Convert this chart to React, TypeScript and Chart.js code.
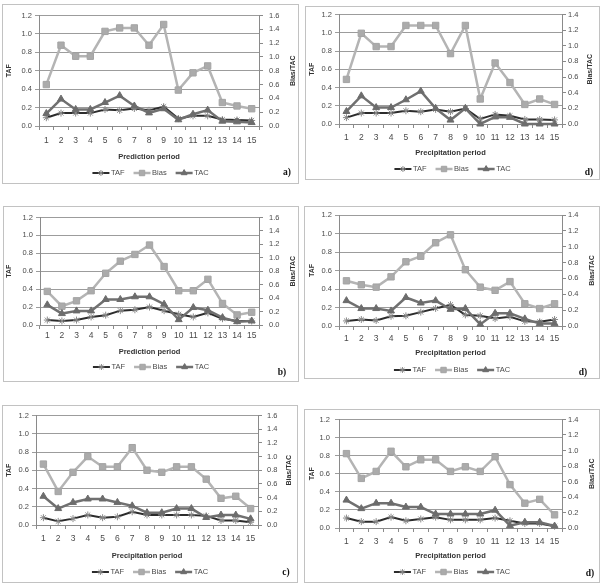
import { useEffect, useRef } from "react";
import { Chart, registerables } from "chart.js";

Chart.register(...registerables);

// ---- data -------------------------------------------------------------
const periods = ["1", "2", "3", "4", "5", "6", "7", "8", "9", "10", "11", "12", "13", "14", "15"];
const seriesNames = ["TAF", "Bias", "TAC"];
const predictionTitle = "Prediction period";
const precipitationTitle = "Precipitation period";
const tafAxisTitle = "TAF";
const biasTacAxisTitle = "Bias/TAC";

// panel a)
const tafA = [0.09, 0.14, 0.14, 0.14, 0.18, 0.17, 0.19, 0.17, 0.21, 0.08, 0.11, 0.11, 0.07, 0.065, 0.06];
const biasA = [0.6, 1.17, 1.01, 1.01, 1.37, 1.42, 1.42, 1.17, 1.47, 0.52, 0.77, 0.87, 0.34, 0.29, 0.25];
const tacA = [0.18, 0.39, 0.24, 0.24, 0.34, 0.44, 0.29, 0.19, 0.25, 0.09, 0.17, 0.23, 0.07, 0.06, 0.05];

// panel d) top
const tafD1 = [0.07, 0.12, 0.12, 0.12, 0.145, 0.135, 0.16, 0.135, 0.17, 0.055, 0.105, 0.09, 0.05, 0.05, 0.045];
const biasD1 = [0.57, 1.16, 0.99, 0.99, 1.26, 1.26, 1.26, 0.9, 1.26, 0.32, 0.78, 0.53, 0.25, 0.32, 0.25];
const tacD1 = [0.16, 0.36, 0.21, 0.21, 0.31, 0.42, 0.2, 0.05, 0.2, 0.0, 0.09, 0.085, 0.0, 0.0, 0.0];

// panel b)
const tafB = [0.055, 0.045, 0.055, 0.09, 0.11, 0.16, 0.17, 0.2, 0.16, 0.12, 0.09, 0.135, 0.07, 0.045, 0.045];
const biasB = [0.5, 0.28, 0.36, 0.51, 0.77, 0.95, 1.05, 1.19, 0.87, 0.51, 0.51, 0.68, 0.32, 0.15, 0.19];
const tacB = [0.3, 0.17, 0.21, 0.21, 0.38, 0.38, 0.42, 0.42, 0.31, 0.08, 0.26, 0.22, 0.11, 0.05, 0.06];

// panel d) middle
const tafD2 = [0.055, 0.07, 0.06, 0.105, 0.11, 0.15, 0.19, 0.23, 0.12, 0.11, 0.08, 0.1, 0.05, 0.045, 0.07];
const biasD2 = [0.57, 0.52, 0.49, 0.62, 0.81, 0.88, 1.05, 1.15, 0.71, 0.49, 0.45, 0.56, 0.28, 0.22, 0.28];
const tacD2 = [0.32, 0.22, 0.22, 0.19, 0.36, 0.29, 0.32, 0.21, 0.22, 0.02, 0.16, 0.16, 0.09, 0.03, 0.03];

// panel c)
const tafC = [0.08, 0.04, 0.07, 0.11, 0.08, 0.09, 0.145, 0.11, 0.11, 0.11, 0.11, 0.1, 0.05, 0.05, 0.03];
const biasC = [0.89, 0.49, 0.77, 1.0, 0.85, 0.85, 1.13, 0.8, 0.77, 0.85, 0.85, 0.67, 0.39, 0.42, 0.24];
const tacC = [0.42, 0.24, 0.33, 0.38, 0.38, 0.33, 0.28, 0.18, 0.18, 0.24, 0.24, 0.11, 0.145, 0.145, 0.09];

// panel d) bottom
const tafD3 = [0.11, 0.07, 0.07, 0.12, 0.08, 0.1, 0.12, 0.09, 0.09, 0.09, 0.11, 0.08, 0.05, 0.05, 0.02];
const biasD3 = [0.96, 0.64, 0.73, 0.99, 0.79, 0.88, 0.88, 0.73, 0.79, 0.73, 0.92, 0.56, 0.32, 0.37, 0.17];
const tacD3 = [0.36, 0.25, 0.32, 0.32, 0.27, 0.27, 0.18, 0.18, 0.18, 0.18, 0.23, 0.03, 0.075, 0.075, 0.025];

// ---- layout -----------------------------------------------------------
type Box = { x: number; y: number; w: number; h: number };
type Area = { l: number; t: number; r: number; b: number };
type Panel = {
  taf: number[];
  bias: number[];
  tac: number[];
  rightMax: number;
  xTitle: string;
  tag: string;
  box: Box;
  plot: Area;
  xTickY: number;
  xTitleY: number;
  legendY: number;
  tagX: number;
  tagY: number;
  leftTitleX: number;
  rightTitleX: number;
  yGap: number;
  y2Gap: number;
};

const panels: Panel[] = [
  {
    taf: tafA, bias: biasA, tac: tacA, rightMax: 1.6, xTitle: predictionTitle, tag: "a)",
    box: { x: 2, y: 4, w: 297, h: 180 }, plot: { l: 39, t: 15, r: 259, b: 126 },
    xTickY: 141, xTitleY: 157, legendY: 173, tagX: 287, tagY: 173,
    leftTitleX: 9, rightTitleX: 293, yGap: 7, y2Gap: 10,
  },
  {
    taf: tafD1, bias: biasD1, tac: tacD1, rightMax: 1.4, xTitle: precipitationTitle, tag: "d)",
    box: { x: 305, y: 6, w: 295, h: 174 }, plot: { l: 339, t: 14, r: 562, b: 124 },
    xTickY: 138, xTitleY: 153, legendY: 169, tagX: 589, tagY: 173,
    leftTitleX: 312, rightTitleX: 590, yGap: 7, y2Gap: 6,
  },
  {
    taf: tafB, bias: biasB, tac: tacB, rightMax: 1.6, xTitle: predictionTitle, tag: "b)",
    box: { x: 3, y: 206, w: 296, h: 176 }, plot: { l: 40, t: 216, r: 259, b: 325 },
    xTickY: 336, xTitleY: 352, legendY: 367, tagX: 282, tagY: 373,
    leftTitleX: 9, rightTitleX: 293, yGap: 7, y2Gap: 10,
  },
  {
    taf: tafD2, bias: biasD2, tac: tacD2, rightMax: 1.4, xTitle: precipitationTitle, tag: "d)",
    box: { x: 304, y: 206, w: 296, h: 173 }, plot: { l: 339, t: 215, r: 562, b: 326 },
    xTickY: 339, xTitleY: 353, legendY: 370, tagX: 583, tagY: 373,
    leftTitleX: 312, rightTitleX: 592, yGap: 7, y2Gap: 6,
  },
  {
    taf: tafC, bias: biasC, tac: tacC, rightMax: 1.6, xTitle: precipitationTitle, tag: "c)",
    box: { x: 2, y: 405, w: 296, h: 178 }, plot: { l: 36, t: 414, r: 258, b: 525 },
    xTickY: 539, xTitleY: 556, legendY: 572, tagX: 286, tagY: 573,
    leftTitleX: 9, rightTitleX: 289, yGap: 7, y2Gap: 9,
  },
  {
    taf: tafD3, bias: biasD3, tac: tacD3, rightMax: 1.4, xTitle: precipitationTitle, tag: "d)",
    box: { x: 304, y: 409, w: 296, h: 174 }, plot: { l: 339, t: 416, r: 562, b: 528 },
    xTickY: 542, xTitleY: 556, legendY: 572, tagX: 590, tagY: 574,
    leftTitleX: 312, rightTitleX: 592, yGap: 9, y2Gap: 6,
  },
];

// ---- styling ----------------------------------------------------------
const SANS = "'Liberation Sans', Arial, sans-serif";
const SERIF = "'Liberation Serif', 'Times New Roman', serif";
const GRID = "#9c9c9c";
const AXIS = "#8a8a8a";
const TEXT = "#4a4a4a";
const TICK_LEN = 4;
const X_TICK_SIZE = 8.5;
const Y_TICK_SIZE = 7.5;
const X_TITLE_SIZE = 7.5;
const Y_TITLE_SIZE = 7;
const LEGEND_SIZE = 7.5;

const tafStyle = { color: "#2c2c2c", width: 2, marker: "star", radius: 3.5, fill: "#8a8a8a", stroke: "#8a8a8a" };
const biasStyle = { color: "#b4b4b4", width: 2.5, marker: "rect", radius: 4.5, fill: "#ababab", stroke: "#a4a4a4" };
const tacStyle = { color: "#707070", width: 2.5, marker: "triangle", radius: 4, fill: "#6c6c6c", stroke: "#6c6c6c" };

function drawMarker(
  ctx: CanvasRenderingContext2D,
  style: string,
  x: number,
  y: number,
  r: number,
  fill: string,
  stroke: string
) {
  ctx.save();
  ctx.fillStyle = fill;
  ctx.strokeStyle = stroke;
  ctx.lineWidth = 1;
  ctx.beginPath();
  if (style === "rect") {
    const s = r * Math.SQRT1_2;
    ctx.rect(x - s, y - s, 2 * s, 2 * s);
    ctx.fill();
    ctx.stroke();
  } else if (style === "triangle") {
    let rad = 0;
    ctx.moveTo(x + Math.sin(rad) * r, y - Math.cos(rad) * r);
    rad += (2 * Math.PI) / 3;
    ctx.lineTo(x + Math.sin(rad) * r, y - Math.cos(rad) * r);
    rad += (2 * Math.PI) / 3;
    ctx.lineTo(x + Math.sin(rad) * r, y - Math.cos(rad) * r);
    ctx.closePath();
    ctx.fill();
    ctx.stroke();
  } else {
    ctx.moveTo(x - r, y);
    ctx.lineTo(x + r, y);
    ctx.moveTo(x, y - r);
    ctx.lineTo(x, y + r);
    const d = r * Math.SQRT1_2;
    ctx.moveTo(x - d, y - d);
    ctx.lineTo(x + d, y + d);
    ctx.moveTo(x - d, y + d);
    ctx.lineTo(x + d, y - d);
    ctx.stroke();
  }
  ctx.restore();
}

// Secondary axis title, line-and-marker legend and the panel letter.
const panelDecor = {
  id: "panelDecor",
  afterDraw(chart: any, _args: any, opts: any) {
    const ctx: CanvasRenderingContext2D = chart.ctx;
    const area = chart.chartArea;

    ctx.save();
    ctx.font = `bold ${Y_TITLE_SIZE}px ${SANS}`;
    ctx.fillStyle = "#333";
    ctx.textAlign = "center";
    ctx.textBaseline = "middle";
    ctx.translate(opts.rightTitleX, (area.top + area.bottom) / 2);
    ctx.rotate(-Math.PI / 2);
    ctx.fillText(opts.rightTitle, 0, 0);
    ctx.restore();

    // legend
    ctx.save();
    ctx.font = `${LEGEND_SIZE}px ${SANS}`;
    ctx.textBaseline = "middle";
    ctx.textAlign = "left";
    const lineLen = 17;
    const gap = 1.5;
    const itemGap = 9;
    const items = chart.data.datasets.map((ds: any) => ({
      ds,
      tw: ctx.measureText(ds.label).width,
    }));
    const total =
      items.reduce((s: number, it: any) => s + lineLen + gap + it.tw, 0) + itemGap * (items.length - 1);
    let x = chart.width / 2 - total / 2;
    const y = opts.legendY;
    for (const it of items) {
      const ds = it.ds;
      ctx.strokeStyle = ds.borderColor;
      ctx.lineWidth = ds.borderWidth;
      ctx.beginPath();
      ctx.moveTo(x, y);
      ctx.lineTo(x + lineLen, y);
      ctx.stroke();
      drawMarker(ctx, ds.pointStyle, x + lineLen / 2, y, ds.pointRadius * 0.85, ds.pointBackgroundColor, ds.pointBorderColor);
      ctx.fillStyle = TEXT;
      ctx.fillText(ds.label, x + lineLen + gap, y);
      x += lineLen + gap + it.tw + itemGap;
    }
    ctx.restore();

    // panel letter
    ctx.save();
    ctx.font = `bold 9.5px ${SERIF}`;
    ctx.fillStyle = "#111";
    ctx.textAlign = "center";
    ctx.textBaseline = "middle";
    ctx.fillText(opts.tag, opts.tagX, opts.tagY);
    ctx.restore();
  },
};

function makeDataset(label: string, data: number[], st: any, axis: string, order: number) {
  return {
    label,
    data,
    yAxisID: axis,
    order,
    borderColor: st.color,
    borderWidth: st.width,
    pointStyle: st.marker,
    pointRadius: st.radius,
    pointBackgroundColor: st.fill,
    pointBorderColor: st.stroke,
    pointBorderWidth: 1,
    tension: 0,
    clip: false,
  };
}

function PanelChart({ panel }: { panel: Panel }) {
  const ref = useRef<HTMLCanvasElement>(null);
  const cw = panel.box.w - 2;
  const ch = panel.box.h - 2;

  useEffect(() => {
    const canvas = ref.current;
    if (!canvas) return;
    const ox = panel.box.x + 1;
    const oy = panel.box.y + 1;
    const plotL = panel.plot.l - ox;
    const plotR = panel.plot.r - ox;
    const plotT = panel.plot.t - oy;
    const plotB = panel.plot.b - oy;
    const xLh = X_TICK_SIZE * 1.2;
    const xTitleLh = X_TITLE_SIZE * 1.2;
    const yTitleLh = Y_TITLE_SIZE * 1.2;

    const chart = new Chart(canvas, {
      type: "line",
      data: {
        labels: periods,
        datasets: [
          makeDataset(seriesNames[0], panel.taf, tafStyle, "y", 2),
          makeDataset(seriesNames[1], panel.bias, biasStyle, "y2", 1),
          makeDataset(seriesNames[2], panel.tac, tacStyle, "y2", 0),
        ],
      },
      options: {
        responsive: false,
        maintainAspectRatio: false,
        animation: false,
        events: [],
        layout: { padding: { top: plotT, left: 0, right: 0, bottom: 0 } },
        plugins: {
          legend: { display: false },
          tooltip: { enabled: false },
          panelDecor: {
            rightTitle: biasTacAxisTitle,
            rightTitleX: panel.rightTitleX - ox,
            legendY: panel.legendY - oy,
            tag: panel.tag,
            tagX: panel.tagX - ox,
            tagY: panel.tagY - oy,
          },
        } as any,
        scales: {
          x: {
            type: "category",
            offset: true,
            grid: {
              display: true,
              drawOnChartArea: false,
              drawTicks: true,
              tickLength: TICK_LEN,
              offset: true,
              color: AXIS,
            },
            border: { display: true, color: AXIS, width: 1 },
            ticks: {
              font: { family: SANS, size: X_TICK_SIZE },
              color: TEXT,
              padding: panel.xTickY - panel.plot.b - TICK_LEN - xLh / 2,
              maxRotation: 0,
              autoSkip: false,
            },
            title: {
              display: true,
              text: panel.xTitle,
              font: { family: SANS, size: X_TITLE_SIZE, weight: "bold" },
              color: "#333",
              padding: { top: 0, bottom: ch - (panel.xTitleY - oy) - xTitleLh / 2 },
            },
            afterFit: (s: any) => {
              s.height = ch - plotB;
            },
          },
          y: {
            position: "left",
            min: 0,
            max: 1.2,
            grid: { color: GRID, drawTicks: true, tickLength: TICK_LEN, lineWidth: 1 },
            border: { display: true, color: AXIS, width: 1 },
            ticks: {
              stepSize: 0.2,
              font: { family: SANS, size: Y_TICK_SIZE },
              color: TEXT,
              padding: panel.yGap - TICK_LEN,
              callback: (v: any) => Number(v).toFixed(1),
            },
            title: {
              display: true,
              text: tafAxisTitle,
              font: { family: SANS, size: Y_TITLE_SIZE, weight: "bold" },
              color: "#333",
              padding: { top: panel.leftTitleX - ox - yTitleLh / 2, bottom: 0 },
            },
            afterFit: (s: any) => {
              s.width = plotL;
            },
          },
          y2: {
            position: "right",
            min: 0,
            max: panel.rightMax,
            grid: { drawOnChartArea: false, drawTicks: true, tickLength: TICK_LEN, color: AXIS },
            border: { display: true, color: AXIS, width: 1 },
            ticks: {
              stepSize: 0.2,
              font: { family: SANS, size: Y_TICK_SIZE },
              color: TEXT,
              padding: panel.y2Gap - TICK_LEN,
              callback: (v: any) => Number(v).toFixed(1),
            },
            afterFit: (s: any) => {
              s.width = cw - plotR;
            },
          },
        },
      } as any,
      plugins: [panelDecor],
    });
    return () => chart.destroy();
  }, [panel, cw, ch]);

  return (
    <div
      style={{
        position: "absolute",
        left: panel.box.x,
        top: panel.box.y,
        width: panel.box.w,
        height: panel.box.h,
        border: "1px solid #c2c2c2",
        boxSizing: "border-box",
        background: "#fff",
      }}
    >
      <canvas ref={ref} width={cw} height={ch} style={{ display: "block", width: cw, height: ch }} />
    </div>
  );
}

export default function App() {
  return (
    <div
      style={{
        position: "absolute",
        left: 0,
        top: 0,
        width: 606,
        height: 584,
        background: "#fff",
        overflow: "hidden",
      }}
    >
      {panels.map((p, i) => (
        <PanelChart key={i} panel={p} />
      ))}
    </div>
  );
}
